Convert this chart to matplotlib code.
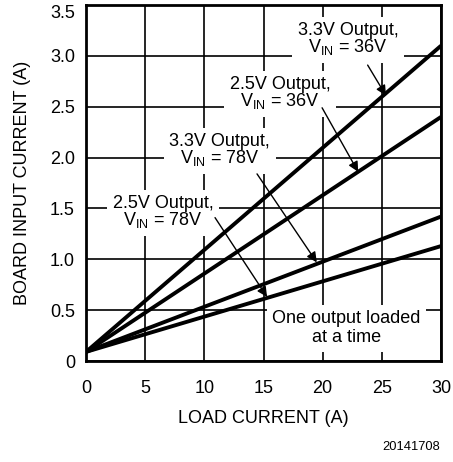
import matplotlib
matplotlib.use("Agg")
import matplotlib.pyplot as plt

plt.rcParams['font.family'] = ['Liberation Sans', 'DejaVu Sans']
plt.rcParams['mathtext.fontset'] = 'custom'
plt.rcParams['mathtext.rm'] = 'Liberation Sans'
plt.rcParams['mathtext.it'] = 'Liberation Sans'

# Data
load_current = [0, 30]
v33_36 = [0.09, 3.10]
v25_36 = [0.09, 2.40]
v33_78 = [0.09, 1.42]
v25_78 = [0.09, 1.13]

x_ticks = [0, 5, 10, 15, 20, 25, 30]
y_ticks = [0, 0.5, 1.0, 1.5, 2.0, 2.5, 3.0, 3.5]
y_tick_labels = ['0', '0.5', '1.0', '1.5', '2.0', '2.5', '3.0', '3.5']

labels = [
    ("3.3V Output,\nV$_{\\rm IN}$ = 36V", 22.15, 3.16, (23.8, 2.91), (25.35, 2.61)),
    ("2.5V Output,\nV$_{\\rm IN}$ = 36V", 16.4, 2.63, (19.95, 2.49), (23.0, 1.86)),
    ("3.3V Output,\nV$_{\\rm IN}$ = 78V", 11.3, 2.07, (14.45, 1.84), (19.5, 0.97)),
    ("2.5V Output,\nV$_{\\rm IN}$ = 78V", 6.5, 1.46, (10.9, 1.41), (15.3, 0.63)),
]

fig = plt.figure(figsize=(4.53, 4.62), dpi=100)
ax = fig.add_axes([0.190, 0.2186, 0.7835, 0.7704])

for ys in (v33_36, v25_36, v33_78, v25_78):
    ax.plot(load_current, ys, color='black', lw=2.8, zorder=3, solid_capstyle='butt')

ax.set_xlim(0, 30)
ax.set_ylim(0, 3.5)
ax.set_xticks(x_ticks)
ax.set_yticks(y_ticks)
ax.set_yticklabels(y_tick_labels)
ax.tick_params(axis='both', length=0, labelsize=13)
ax.tick_params(axis='x', pad=14)
ax.tick_params(axis='y', pad=8)
ax.get_yticklabels()[-1].set_verticalalignment('top')
ax.grid(True, color='black', lw=1.2, zorder=1)
ax.set_axisbelow(True)
for s in ax.spines.values():
    s.set_linewidth(2)

ax.set_xlabel('LOAD CURRENT (A)', fontsize=13, labelpad=9)
ax.set_ylabel('BOARD INPUT CURRENT (A)', fontsize=13, labelpad=14)

for txt, tx, ty, start, end in labels:
    ax.text(tx, ty, txt, ha='center', va='center', fontsize=13, linespacing=0.9,
            zorder=2, bbox=dict(facecolor='white', edgecolor='none', pad=4))
    ax.annotate('', xy=end, xytext=start,
                arrowprops=dict(arrowstyle='-|>', color='black', lw=1.0,
                                mutation_scale=15, shrinkA=0, shrinkB=0),
                zorder=4)

ax.text(22.0, 0.32, "One output loaded\nat a time", ha='center', va='center',
        fontsize=13, linespacing=1.15, zorder=2,
        bbox=dict(facecolor='white', edgecolor='none', pad=4))

fig.text(0.971, 0.032, '20141708', ha='right', va='center', fontsize=9.3)

fig.savefig('out.png', dpi=100)
